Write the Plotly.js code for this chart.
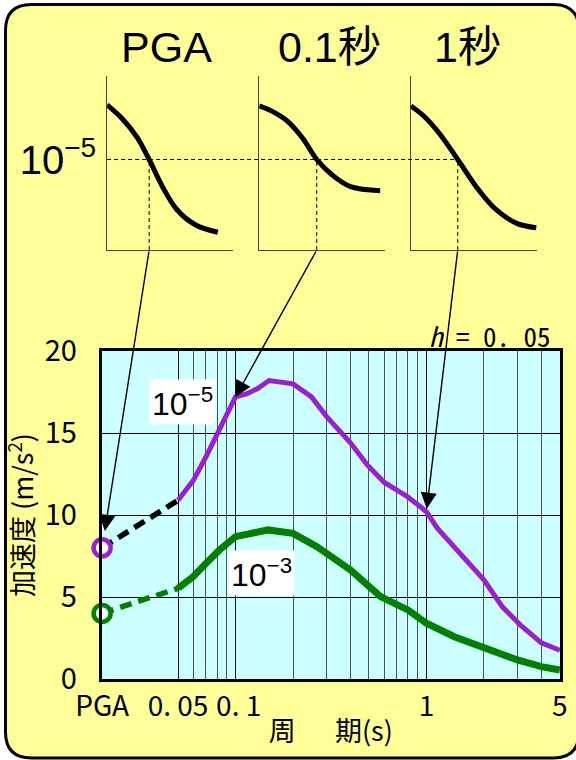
<!DOCTYPE html>
<html><head><meta charset="utf-8">
<script src="https://cdn.plot.ly/plotly-3.0.1.min.js"></script>
<style>html,body{margin:0;padding:0;background:#fff}</style>
</head><body><div id="chart" style="width:576px;height:760px"></div>
<script>
// ---- main spectrum data (period s, acceleration m/s^2) ----
const periods10m5 = [0.05, 0.06, 0.07, 0.0825, 0.1, 0.115, 0.13, 0.15, 0.2, 0.25, 0.3, 0.4, 0.49, 0.6, 0.8, 0.93, 1.0, 1.14, 1.5, 2.0, 2.5, 3.1, 4.0, 5.0];
const accel10m5   = [10.9, 12.1, 13.55, 15.2, 17.2, 17.4, 17.7, 18.2, 18.0, 17.2, 16.0, 14.4, 13.05, 12.0, 11.1, 10.5, 10.2, 9.2, 7.7, 6.05, 4.4, 3.3, 2.2, 1.75];
const periods10m3 = [0.05, 0.06, 0.07, 0.0825, 0.1, 0.123, 0.148, 0.2, 0.267, 0.4, 0.575, 0.8, 1.0, 1.4, 2.0, 3.0, 4.0, 5.0];
const accel10m3   = [5.53, 6.24, 7.05, 7.87, 8.68, 8.88, 9.09, 8.88, 8.07, 6.65, 5.02, 4.21, 3.40, 2.58, 1.87, 1.16, 0.75, 0.55];
const pgaPeriod = 0.02;          // position used for PGA on the period axis
const pga10m5 = 8.0;
const pga10m3 = 4.0;
const seriesLabels = ['10<sup>−5</sup>', '10<sup>−3</sup>'];

const xTickVals = [0.02, 0.05, 0.1, 1, 5];
const xTickText = ['PGA', '0. 05', '\u00A00. 1', '1', '5'];
const xMinorVals = [0.06, 0.07, 0.08, 0.09, 0.2, 0.3, 0.4, 0.5, 0.6, 0.7, 0.8, 0.9, 2, 3, 4];
const yTickVals = [0, 5, 10, 15, 20];

// ---- hazard curve insets (acceleration, log10 annual exceedance) ----
const insetTitles = ['PGA', '0.1秒', '1秒'];
const hazPGAacc  = [0, 2.8, 5.61, 8.0, 10.53, 13.33, 16.85, 21.05];
const hazPGAlogp = [-3.43, -3.815, -4.345, -5.0, -5.78, -6.45, -6.88, -7.09];
const haz01acc   = [0, 4.19, 8.6, 13.0, 17.2, 21.83, 27.32, 36.16];
const haz01logp  = [-3.46, -3.63, -3.91, -4.39, -5.0, -5.445, -5.78, -5.895];
const haz1acc    = [0, 2.97, 6.17, 10.2, 14.22, 18.22, 23.05, 27.3];
const haz1logp   = [-3.46, -3.77, -4.245, -5.0, -5.78, -6.40, -6.835, -6.96];
const targetLogP = -5;
const crossAcc = [8.0, 17.2, 10.2];     // spectrum values read at PGA, 0.1 s, 1 s
const crossPeriod = [0.02, 0.1, 1.0];
const insetAccMax = [24, 37.6, 27.5];
const insetLogRange = [-7.6, -2.6];

// ---- layout geometry ----
const W = 576, H = 760;
const MONO = "'Noto Sans Mono CJK JP', 'DejaVu Sans Mono', monospace";
const JP = "'Noto Sans CJK JP', sans-serif";
const SANS = "'Liberation Sans', 'Noto Sans CJK JP', sans-serif";
const PURPLE = '#9A1FD0', GREEN = '#008000';
const xd = [101.7 / W, 560 / W], yd = [1 - 679 / H, 1 - 351 / H];
const xr = [Math.log10(0.0199), Math.log10(5.01)];
const insetXd = [[107.1 / W, 233.3 / W], [259.2 / W, 385 / W], [410.9 / W, 537.2 / W]];
const insetYd = [1 - 250 / H, 1 - 76 / H];

function mainPx(period, val) {
  const fx = (Math.log10(period) - xr[0]) / (xr[1] - xr[0]);
  const fy = val / 20;
  return { x: (xd[0] + fx * (xd[1] - xd[0])) * W, y: (1 - (yd[0] + fy * (yd[1] - yd[0]))) * H };
}
function insetPx(i, acc, logp) {
  const fx = acc / insetAccMax[i];
  const fy = (logp - insetLogRange[0]) / (insetLogRange[1] - insetLogRange[0]);
  return { x: (insetXd[i][0] + fx * (insetXd[i][1] - insetXd[i][0])) * W, y: (1 - (insetYd[0] + fy * (insetYd[1] - insetYd[0]))) * H };
}

const traces = [];
// dashed PGA connectors
traces.push({ x: [pgaPeriod, periods10m5[0]], y: [pga10m5, accel10m5[0]], mode: 'lines', line: { color: 'black', width: 5.5, dash: '12px,7px' }, xaxis: 'x', yaxis: 'y', hoverinfo: 'skip' });
traces.push({ x: [pgaPeriod, periods10m3[0]], y: [pga10m3, accel10m3[0]], mode: 'lines', line: { color: GREEN, width: 5.5, dash: '12px,7px' }, xaxis: 'x', yaxis: 'y', hoverinfo: 'skip' });
traces.push({ x: periods10m5, y: accel10m5, mode: 'lines', line: { color: PURPLE, width: 5 }, xaxis: 'x', yaxis: 'y', name: '1e-5' });
traces.push({ x: periods10m3, y: accel10m3, mode: 'lines', line: { color: GREEN, width: 7 }, xaxis: 'x', yaxis: 'y', name: '1e-3' });
traces.push({ x: [pgaPeriod], y: [pga10m5], mode: 'markers', marker: { symbol: 'circle', size: 17, color: 'white', line: { color: PURPLE, width: 4.5 } }, cliponaxis: false, xaxis: 'x', yaxis: 'y' });
traces.push({ x: [pgaPeriod], y: [pga10m3], mode: 'markers', marker: { symbol: 'circle', size: 17, color: 'white', line: { color: GREEN, width: 4.5 } }, cliponaxis: false, xaxis: 'x', yaxis: 'y' });
// inset hazard curves
const hazAcc = [hazPGAacc, haz01acc, haz1acc], hazLog = [hazPGAlogp, haz01logp, haz1logp];
for (let i = 0; i < 3; i++) {
  const n = i + 2;
  traces.push({ x: hazAcc[i], y: hazLog[i], mode: 'lines', line: { color: 'black', width: 5, shape: 'spline', smoothing: 1 }, xaxis: 'x' + n, yaxis: 'y' + n, hoverinfo: 'skip' });
}

const layout = {
  width: W, height: H, showlegend: false,
  margin: { l: 0, r: 0, t: 0, b: 0, pad: 0 },
  paper_bgcolor: 'white', plot_bgcolor: 'rgba(0,0,0,0)',
  xaxis: {
    type: 'log', domain: xd, range: xr, anchor: 'y',
    tickmode: 'array', tickvals: xTickVals, ticktext: xTickText, ticks: '', tickangle: 0,
    tickfont: { family: JP, size: 28, color: 'black' }, ticklabelstandoff: 0,
    showgrid: true, gridcolor: '#111', gridwidth: 1,
    minor: { tickmode: 'array', tickvals: xMinorVals, showgrid: true, gridcolor: '#505050', gridwidth: 1, ticks: '' },
    showline: true, linecolor: 'black', linewidth: 3, mirror: true, zeroline: false,
    title: { text: '周　\u00A0\u00A0期(s)', font: { family: JP, size: 27, color: 'black' }, standoff: 0 }
  },
  yaxis: {
    domain: yd, range: [0, 20], anchor: 'x',
    tickmode: 'array', tickvals: yTickVals, ticks: '',
    tickfont: { family: JP, size: 29, color: 'black' }, ticklabelstandoff: 16,
    showgrid: true, gridcolor: 'black', gridwidth: 1,
    showline: true, linecolor: 'black', linewidth: 3, mirror: true, zeroline: false,
    title: { text: '加速度 (m/s<sup>2</sup>)', font: { family: JP, size: 27, color: 'black' }, standoff: 6 }
  },
  shapes: [], annotations: []
};

for (let i = 0; i < 3; i++) {
  const n = i + 2;
  layout['xaxis' + n] = { domain: insetXd[i], range: [0, insetAccMax[i]], anchor: 'y' + n, showgrid: false, zeroline: false, showticklabels: false, ticks: '', showline: true, linecolor: '#444', linewidth: 1 };
  layout['yaxis' + n] = { domain: insetYd, range: insetLogRange, anchor: 'x' + n, showgrid: false, zeroline: false, ticks: '', showline: true, linecolor: '#444', linewidth: 1,
    showticklabels: i === 0, tickmode: 'array', tickvals: [targetLogP], ticktext: ['10<sup>−5</sup>'],
    tickfont: { family: SANS, size: 40, color: 'black' }, ticklabelstandoff: 2 };
  // vertical dashed drop line
  layout.shapes.push({ type: 'line', xref: 'x' + n, yref: 'y' + n, x0: crossAcc[i], x1: crossAcc[i], y0: insetLogRange[0], y1: targetLogP, line: { color: 'black', width: 1, dash: '4px,3px' } });
  // inset title
  layout.annotations.push({ text: insetTitles[i], xref: 'x' + n + ' domain', yref: 'paper', x: [0.47, 0.56, 0.45][i], y: 1 - 47 / H, xanchor: 'center', yanchor: 'middle', showarrow: false, font: { family: SANS, size: 43, color: 'black' } });
  // arrow from inset to spectrum
  const tail = insetPx(i, crossAcc[i], insetLogRange[0]);
  const head = mainPx(crossPeriod[i], crossAcc[i]);
  layout.annotations.push({ text: '', xref: 'x', yref: 'y', x: Math.log10(crossPeriod[i]), y: crossAcc[i], showarrow: true, axref: 'pixel', ayref: 'pixel', ax: tail.x - head.x, ay: tail.y - head.y, arrowhead: 2, arrowsize: 2.3, arrowwidth: 1.4, arrowcolor: 'black', standoff: [17, 0, 3][i] });
}
// horizontal dashed line at 10^-5
const lastCross = insetPx(2, crossAcc[2], targetLogP);
layout.shapes.push({ type: 'line', xref: 'paper', yref: 'y2', x0: insetXd[0][0], x1: lastCross.x / W, y0: targetLogP, y1: targetLogP, line: { color: 'black', width: 1, dash: '4px,3px' } });
// yellow rounded frame
const bx0 = 5.5 / W, bx1 = 579 / W, by0 = 1 - 758 / H, by1 = 1 - 4.5 / H, rx = 26 / W, ry = 26 / H;
layout.shapes.push({ type: 'path', xref: 'paper', yref: 'paper', layer: 'below', fillcolor: '#FFFF99', line: { color: 'black', width: 3 },
  path: `M ${bx0 + rx} ${by1} L ${bx1 - rx} ${by1} Q ${bx1} ${by1} ${bx1} ${by1 - ry} L ${bx1} ${by0 + ry} Q ${bx1} ${by0} ${bx1 - rx} ${by0} L ${bx0 + rx} ${by0} Q ${bx0} ${by0} ${bx0} ${by0 + ry} L ${bx0} ${by1 - ry} Q ${bx0} ${by1} ${bx0 + rx} ${by1} Z` });
// cyan plot background
layout.shapes.push({ type: 'rect', xref: 'x domain', yref: 'y domain', x0: 0, x1: 1, y0: 0, y1: 1, layer: 'below', fillcolor: '#CCFFFF', line: { width: 0 } });
// series labels
layout.annotations.push({ text: seriesLabels[0], xref: 'x', yref: 'y', x: Math.log10(0.0528), y: 16.9, showarrow: false, bgcolor: 'white', borderpad: 2, font: { family: SANS, size: 32, color: 'black' } });
layout.annotations.push({ text: seriesLabels[1], xref: 'x', yref: 'y', x: Math.log10(0.136), y: 6.46, showarrow: false, bgcolor: 'white', borderpad: 2, font: { family: SANS, size: 32, color: 'black' } });
// damping label
layout.annotations.push({ text: '<i>h</i> = 0. 05', xref: 'paper', yref: 'paper', x: 490 / W, y: 1 - 335 / H, xanchor: 'center', yanchor: 'middle', showarrow: false, font: { family: MONO, size: 27, color: 'black' } });

Plotly.newPlot('chart', traces, layout, { staticPlot: true });
</script></body></html>
